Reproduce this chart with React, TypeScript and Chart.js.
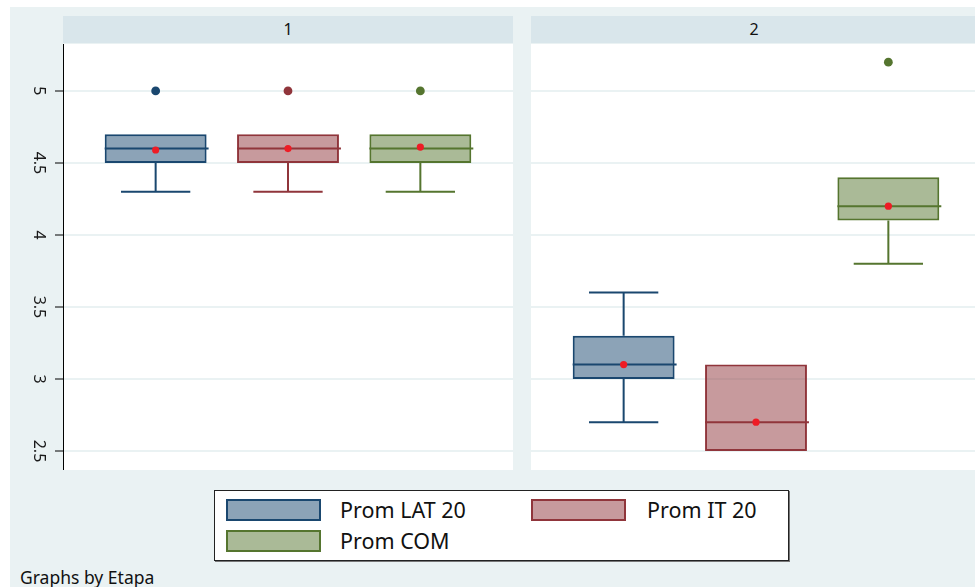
import React, { useEffect, useRef } from "react";
import { Chart, registerables } from "chart.js";
Chart.register(...registerables);

// ---------- data ----------
const panelLabels = ["1", "2"];
const seriesNames = ["Prom LAT 20", "Prom IT 20", "Prom COM"];
const yTicks = [2.5, 3, 3.5, 4, 4.5, 5];
// [panel][series]
const lowerWhisker = [
  [4.3, 4.3, 4.3],
  [2.7, 2.5, 3.8],
];
const q1 = [
  [4.5, 4.5, 4.5],
  [3.0, 2.5, 4.1],
];
const median = [
  [4.6, 4.6, 4.6],
  [3.1, 2.7, 4.2],
];
const q3 = [
  [4.7, 4.7, 4.7],
  [3.3, 3.1, 4.4],
];
const upperWhisker = [
  [4.7, 4.7, 4.7],
  [3.6, 3.1, 4.4],
];
const means = [
  [4.59, 4.6, 4.61],
  [3.1, 2.7, 4.2],
];
const outliers = [
  [[5], [5], [5]],
  [[], [], [5.2]],
];

// ---------- style ----------
const FONT = "'Noto Sans', 'DejaVu Sans', sans-serif";
const lineColors = ["#1A476F", "#90353B", "#55752F"];
const fillColors = ["rgba(26,71,111,0.5)", "rgba(144,53,59,0.5)", "rgba(85,117,47,0.5)"];
const meanColor = "#EE1C25";
const BG = "#EAF2F3";
const STRIP = "#D9E6EB";
const Y_MIN = 2.368;
const Y_MAX = 5.326;

const boxPlugin = {
  id: "boxWhiskers",
  beforeDraw(chart: any) {
    const { ctx, chartArea } = chart;
    ctx.save();
    ctx.fillStyle = "#ffffff";
    ctx.fillRect(chartArea.left, chartArea.top, chartArea.right - chartArea.left, chartArea.bottom - chartArea.top);
    ctx.restore();
  },
  afterDatasetDraw(chart: any, args: any) {
    const meta = args.meta;
    if (meta.type !== "bar") return;
    const ds = chart.data.datasets[args.index];
    const st = ds.stats;
    const ys = chart.scales.y;
    const ctx = chart.ctx;
    const bar = meta.data[0];
    if (!bar) return;
    const { x, width } = bar.getProps(["x", "width"], true);
    const capHalf = width * 0.34;
    ctx.save();
    ctx.strokeStyle = ds.borderColor;
    ctx.lineWidth = 2;
    ctx.beginPath();
    const pMed = ys.getPixelForValue(st.med);
    ctx.moveTo(x - width / 2, pMed);
    ctx.lineTo(x + width / 2 + 2, pMed);
    if (st.lw < st.q1) {
      const a = ys.getPixelForValue(st.q1);
      const b = ys.getPixelForValue(st.lw);
      ctx.moveTo(x, a);
      ctx.lineTo(x, b);
      ctx.moveTo(x - capHalf, b);
      ctx.lineTo(x + capHalf, b);
    }
    if (st.uw > st.q3) {
      const a = ys.getPixelForValue(st.q3);
      const b = ys.getPixelForValue(st.uw);
      ctx.moveTo(x, a);
      ctx.lineTo(x, b);
      ctx.moveTo(x - capHalf, b);
      ctx.lineTo(x + capHalf, b);
    }
    ctx.stroke();
    ctx.restore();
  },
};

function makeConfig(p: number, showY: boolean): any {
  const meanData = means[p].map((v, i) => ({ x: i, y: v }));
  const outData: any[] = [];
  const outColors: string[] = [];
  outliers[p].forEach((arr, i) =>
    arr.forEach((v) => {
      outData.push({ x: i, y: v });
      outColors.push(lineColors[i]);
    })
  );
  const bars = seriesNames.map((name, i) => ({
    type: "bar",
    label: name,
    data: [{ x: i, y: [q1[p][i], q3[p][i]] }],
    backgroundColor: fillColors[i],
    borderColor: lineColors[i],
    borderWidth: 2,
    borderSkipped: false,
    grouped: false,
    barPercentage: 0.77,
    categoryPercentage: 1,
    order: 2 + i,
    stats: { lw: lowerWhisker[p][i], q1: q1[p][i], med: median[p][i], q3: q3[p][i], uw: upperWhisker[p][i] },
  }));
  return {
    type: "bar",
    data: {
      datasets: [
        {
          type: "scatter",
          label: "mean",
          data: meanData,
          pointRadius: 3.6,
          pointBackgroundColor: meanColor,
          pointBorderWidth: 0,
          order: 0,
        },
        {
          type: "scatter",
          label: "outliers",
          data: outData,
          pointRadius: 4.4,
          pointBackgroundColor: outColors,
          pointBorderWidth: 0,
          order: 1,
        },
        ...bars,
      ],
    },
    options: {
      animation: false,
      responsive: false,
      maintainAspectRatio: false,
      layout: { padding: 0, autoPadding: false },
      events: [],
      plugins: { legend: { display: false }, tooltip: { enabled: false } },
      scales: {
        x: {
          type: "linear",
          min: -0.7,
          max: 2.7,
          offset: false,
          afterBuildTicks: (s: any) => {
            s.ticks = seriesNames.map((_, i) => ({ value: i }));
          },
          ticks: { display: false },
          grid: { display: false, drawTicks: false },
          border: { display: true, color: "#000", width: 1 },
          afterFit: (s: any) => {
            s.height = 0;
            s.paddingLeft = 0;
            s.paddingRight = 0;
          },
        },
        y: {
          type: "linear",
          min: Y_MIN,
          max: Y_MAX,
          afterBuildTicks: (s: any) => {
            s.ticks = yTicks.map((v) => ({ value: v }));
          },
          ticks: {
            display: showY,
            minRotation: -90,
            maxRotation: -90,
            crossAlign: "center",
            padding: 5,
            color: "#1a1a1a",
            font: { family: FONT, size: 16 },
            callback: (v: any) => String(v),
          },
          grid: {
            color: BG,
            lineWidth: 2,
            drawTicks: showY,
            tickLength: 8,
            tickColor: "#000",
            tickWidth: 1,
          },
          border: { display: showY, color: "#000", width: 1 },
          afterFit: (s: any) => {
            s.width = showY ? 53 : 0;
            s.paddingTop = 0;
            s.paddingBottom = 0;
          },
        },
      },
    },
    plugins: [boxPlugin],
  };
}

function Panel({ p, left, width, showY }: { p: number; left: number; width: number; showY: boolean }) {
  const ref = useRef<HTMLCanvasElement>(null);
  useEffect(() => {
    if (!ref.current) return;
    const chart = new Chart(ref.current, makeConfig(p, showY));
    return () => chart.destroy();
  }, [p, showY]);
  return (
    <canvas
      ref={ref}
      width={width}
      height={426}
      style={{ position: "absolute", left, top: 44, width, height: 426 }}
    />
  );
}

export default function App() {
  const legendItems = [
    { i: 0, sx: 226, sy: 499, tx: 340 },
    { i: 1, sx: 531, sy: 499, tx: 647 },
    { i: 2, sx: 226, sy: 530, tx: 340 },
  ];
  return (
    <div
      style={{
        position: "absolute",
        left: 0,
        top: 0,
        width: 975,
        height: 587,
        background: "#fff",
        overflow: "hidden",
        fontFamily: FONT,
      }}
    >
      <div style={{ position: "absolute", left: 10, top: 7, width: 965, height: 580, background: BG }} />
      {/* panel strips */}
      {panelLabels.map((lab, k) => (
        <div
          key={lab}
          style={{
            position: "absolute",
            left: k === 0 ? 63 : 531,
            top: 16,
            width: k === 0 ? 450 : 446,
            height: 27,
            background: STRIP,
            color: "#111",
            fontSize: 16,
            lineHeight: "27px",
            textAlign: "center",
          }}
        >
          {lab}
        </div>
      ))}
      <Panel p={0} left={10} width={503} showY={true} />
      <Panel p={1} left={531} width={450} showY={false} />
      {/* legend */}
      <div
        style={{
          position: "absolute",
          left: 214,
          top: 490,
          width: 573,
          height: 69,
          background: "#fff",
          border: "1px solid #222",
          boxShadow: "1px 1px 0 #777",
        }}
      />
      {legendItems.map((it) => (
        <React.Fragment key={it.i}>
          <div
            style={{
              position: "absolute",
              left: it.sx,
              top: it.sy,
              width: 91,
              height: 18,
              background: fillColors[it.i],
              border: `2px solid ${lineColors[it.i]}`,
            }}
          />
          <div
            style={{
              position: "absolute",
              left: it.tx,
              top: it.sy - 2,
              height: 26,
              lineHeight: "26px",
              fontSize: 21.5,
              color: "#111",
              whiteSpace: "nowrap",
            }}
          >
            {seriesNames[it.i]}
          </div>
        </React.Fragment>
      ))}
      <div
        style={{
          position: "absolute",
          left: 20,
          top: 566,
          lineHeight: "22px",
          fontSize: 17.5,
          color: "#111",
          whiteSpace: "nowrap",
        }}
      >
        Graphs by Etapa
      </div>
    </div>
  );
}
